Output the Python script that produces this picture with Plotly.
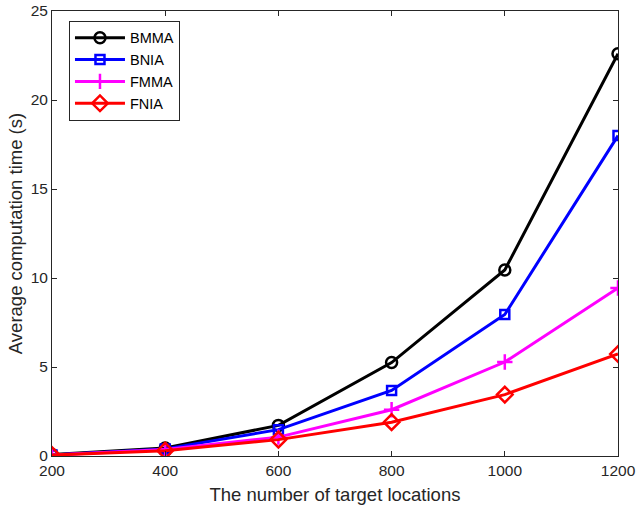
import plotly.graph_objects as go

x_vals = [200, 400, 600, 800, 1000, 1200]
bmma = [0.08, 0.45, 1.72, 5.25, 10.45, 22.6]
bnia = [0.06, 0.40, 1.48, 3.68, 7.95, 18.0]
fmma = [0.05, 0.36, 1.06, 2.6, 5.28, 9.44]
fnia = [0.05, 0.30, 0.92, 1.9, 3.45, 5.73]
names = ["BMMA", "BNIA", "FMMA", "FNIA"]
colors = ["#000000", "#0000FF", "#FF00FF", "#FF0000"]
symbols = ["circle-open", "square-open", "cross-thin-open", "diamond-open"]
sizes = [11, 9, 11, 12]

fig = go.Figure()
for name, ys, c, s, sz in zip(names, [bmma, bnia, fmma, fnia], colors, symbols, sizes):
    fig.add_trace(go.Scatter(
        x=x_vals, y=ys, name=name, mode="lines+markers",
        line=dict(color=c, width=3),
        marker=dict(symbol=s, size=sz, color=c, line=dict(color=c, width=2.5)),
    ))

FONT = "Liberation Sans, Arial, Helvetica"
axis_common = dict(
    showgrid=False, zeroline=False, showline=True, linecolor="#262626", linewidth=1,
    mirror="allticks", ticks="inside", ticklen=5, tickcolor="#262626",
    tickfont=dict(family=FONT, size=15.5, color="#262626"),
    ticklabeloverflow="allow", automargin=False,
)
fig.update_xaxes(range=[200, 1200], tickvals=[200, 400, 600, 800, 1000, 1200],
                 title=dict(text="The number of target locations",
                            font=dict(family=FONT, size=18.5, color="#262626"),
                            standoff=10),
                 **axis_common)
fig.update_yaxes(range=[0, 25], tickvals=[0, 5, 10, 15, 20, 25],
                 title=dict(text="Average computation time (s)",
                            font=dict(family=FONT, size=18.5, color="#262626"),
                            standoff=3),
                 **axis_common)

fig.update_layout(
    width=636, height=510,
    margin=dict(l=52, r=18, t=11, b=54, autoexpand=False),
    plot_bgcolor="white", paper_bgcolor="white",
    legend=dict(x=0.03, y=0.978, xanchor="left", yanchor="top",
                bgcolor="white", bordercolor="#262626", borderwidth=1,
                font=dict(family=FONT, size=14.5, color="#000000"),
                itemwidth=50, tracegroupgap=0),
    showlegend=True,
)

fig.write_html("out.html", config={"displayModeBar": False},
               post_script="document.body.style.margin='0px';")
